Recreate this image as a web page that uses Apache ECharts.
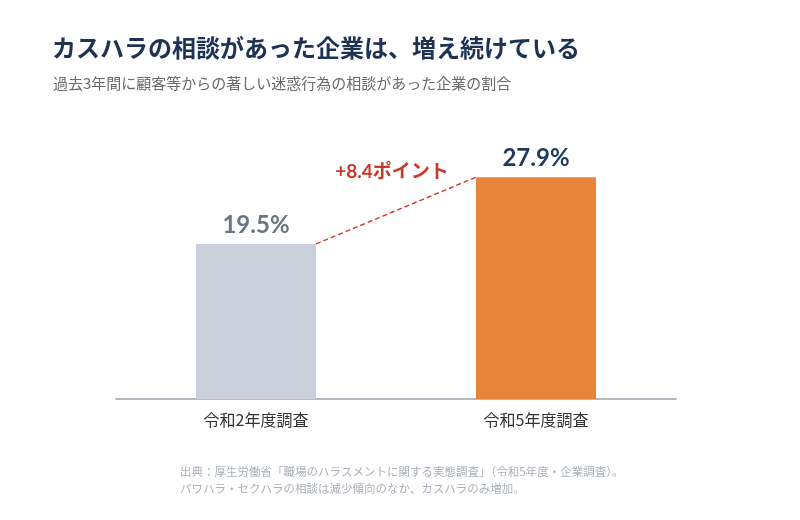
<!DOCTYPE html>
<html>
<head>
<meta charset="utf-8">
<script src="https://cdn.jsdelivr.net/npm/echarts@6/dist/echarts.min.js"></script>
<style>
html, body { margin: 0; padding: 0; background: #fff; }
#main { width: 800px; height: 520px; }
</style>
</head>
<body>
<div id="main"></div>
<script>
// データ
var categories = ['令和2年度調査', '令和5年度調査'];
var values = [19.5, 27.9];
var diffLabel = '+8.4ポイント';

var titleText = 'カスハラの相談があった企業は、増え続けている';
var subText = '過去3年間に顧客等からの著しい迷惑行為の相談があった企業の割合';
var noteLines = [
  '出典：厚生労働省「職場のハラスメントに関する実態調査」（令和5年度・企業調査）。',
  'パワハラ・セクハラの相談は減少傾向のなか、カスハラのみ増加。'
];

var barColors = ['#c9d0dc', '#e8843a'];
var labelColors = ['#6b7685', '#1e3a5f'];
var jp = '"Noto Sans CJK JP", sans-serif';
var num = 'Lato, "Noto Sans CJK JP", sans-serif';
var BAR_W = 120;

var myChart = echarts.init(document.getElementById('main'));

var option = {
  animation: false,
  backgroundColor: '#fff',
  title: [
    {
      text: titleText,
      left: 47, top: 31,
      textStyle: { fontFamily: jp, fontSize: 24, fontWeight: 'bold', color: '#1e3354' }
    },
    {
      text: subText,
      left: 48, top: 71,
      textStyle: { fontFamily: jp, fontSize: 15, fontWeight: 'normal', color: '#6a6a6a' }
    },
    {
      text: noteLines.join('\n'),
      left: 175, top: 458,
      textStyle: { fontFamily: jp, fontSize: 11.5, fontWeight: 'normal', color: '#a9afb8', lineHeight: 17 }
    }
  ],
  grid: { left: 116, right: 124, top: 81, bottom: 121 },
  xAxis: {
    type: 'category',
    data: categories,
    axisLine: { lineStyle: { color: '#b3bac3', width: 2 } },
    axisTick: { show: false },
    axisLabel: { fontFamily: jp, fontSize: 16, color: '#333', margin: 13 }
  },
  yAxis: {
    type: 'value',
    min: 0, max: 40,
    show: false
  },
  series: [
    {
      type: 'bar',
      barWidth: BAR_W,
      data: values.map(function (v, i) {
        return {
          value: v,
          itemStyle: { color: barColors[i] },
          label: { color: labelColors[i] }
        };
      }),
      label: {
        show: true,
        position: 'top',
        distance: 7,
        fontFamily: num,
        fontSize: 24,
        fontWeight: 'bold',
        formatter: function (p) { return p.value.toFixed(1) + '%'; }
      }
    },
    {
      // 2本の棒の上端をつなぐ破線と増加幅ラベル
      type: 'custom',
      silent: true,
      z: 5,
      data: [[0, values[0], 1, values[1]]],
      renderItem: function (params, api) {
        var p1 = api.coord([api.value(0), api.value(1)]);
        var p2 = api.coord([api.value(2), api.value(3)]);
        var x1 = p1[0] + BAR_W / 2, y1 = p1[1];
        var x2 = p2[0] - BAR_W / 2, y2 = p2[1];
        return {
          type: 'group',
          children: [
            {
              type: 'line',
              shape: { x1: x1, y1: y1, x2: x2, y2: y2 },
              style: { stroke: '#cc3b2e', lineWidth: 1.4, lineDash: [5, 3] }
            },
            {
              type: 'text',
              x: (x1 + x2) / 2 - 4,
              y: y2 - 5,
              style: {
                text: diffLabel,
                fill: '#c8392c',
                font: 'bold 19px ' + num,
                textAlign: 'center',
                textVerticalAlign: 'middle'
              }
            }
          ]
        };
      }
    }
  ]
};

myChart.setOption(option);
</script>
</body>
</html>
